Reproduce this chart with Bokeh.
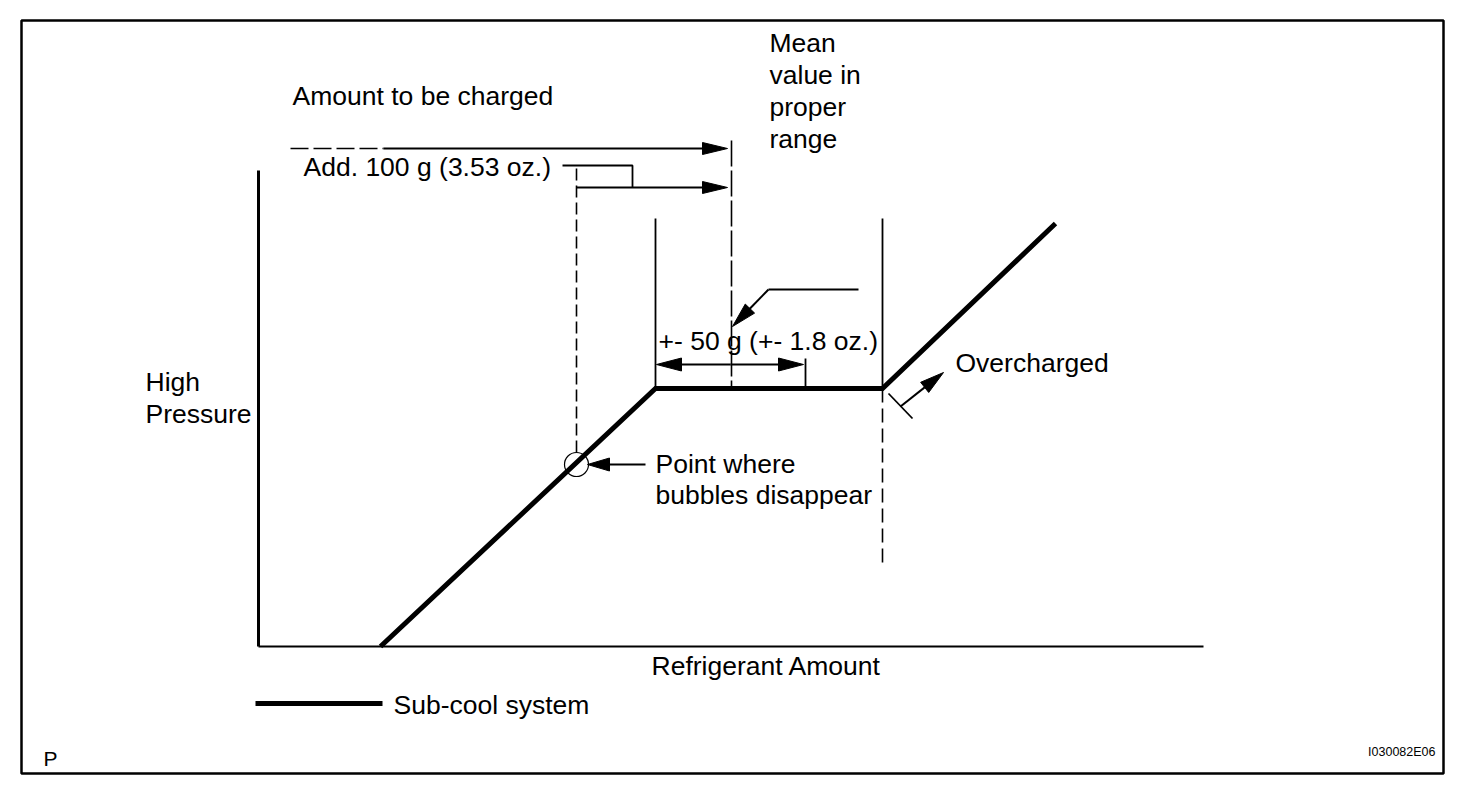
import numpy as np
from bokeh.plotting import figure
from bokeh.models import Range1d
from bokeh.core.properties import value
from bokeh.embed import file_html
from bokeh.resources import INLINE

# ---- diagram data (diagram units; y grows downward as in the source drawing) ----
curve_amount = [380, 655, 882, 1055]
curve_pressure = [646, 388, 388, 223]

axis_x = [258, 258, 1203]
axis_y = [170, 646, 646]

label_text = ["Amount to be charged", "Mean", "value in", "proper", "range",
              "Add. 100 g (3.53 oz.)", "+- 50 g (+- 1.8 oz.)", "Overcharged",
              "High", "Pressure", "Point where", "bubbles disappear",
              "Refrigerant Amount", "Sub-cool system"]
label_x = [292, 769, 769, 769, 769, 303, 658, 955, 145, 145, 655, 655, 651, 393]
label_y = [95, 42, 74, 106, 138, 166, 340, 362, 381, 413, 463, 494, 665, 704]

# arrows: start -> tip
arrow_x0 = [383, 576, 730, 730, 768, 900, 645]
arrow_y0 = [148, 187, 364, 364, 289, 406, 464]
arrow_x1 = [727, 727, 656, 803, 732, 943, 587]
arrow_y1 = [148, 187, 364, 364, 326, 372, 464]
arrow_len = [25, 25, 25, 25, 25, 24, 22]
arrow_wid = [12, 12, 13, 13, 13, 13, 13]

# plain thin polylines
poly_xs = [[562, 632, 632], [858, 768], [888, 912], [805, 805], [655, 655], [882, 882]]
poly_ys = [[165, 165, 187], [289, 289], [393, 418], [358, 388], [218, 388], [218, 388]]

# dashed guide lines
dash_xs = [[290, 383], [576, 576], [731, 731], [882, 882]]
dash_ys = [[148, 148], [168, 452], [140, 388], [388, 563]]
dash_pat = ["18 5", "12 5", "26 4", "14 6"]

bubble_x, bubble_y, bubble_r = [576], [464], [12]
legend_x, legend_y = [255, 382], [703, 703]
frame = dict(left=21, right=1443, top=20, bottom=773)

W, H = 1456, 778
p = figure(width=W, height=H, x_range=Range1d(0, W), y_range=Range1d(H, 0),
           output_backend="svg", toolbar_location=None,
           x_axis_type=None, y_axis_type=None, min_border=0)
p.grid.visible = False
p.outline_line_color = None
p.background_fill_color = "white"
p.border_fill_color = "white"

# frame
p.quad(left=[frame["left"]], right=[frame["right"]], top=[frame["top"]],
       bottom=[frame["bottom"]], fill_color=None, line_color="black", line_width=2.5)

# axes
p.line(axis_x[:2], axis_y[:2], line_color="black", line_width=3)
p.line(axis_x[1:], axis_y[1:], line_color="black", line_width=2)

# curve
p.line(curve_amount, curve_pressure, line_color="black", line_width=5, line_join="miter")
p.line(legend_x, legend_y, line_color="black", line_width=5)

# thin lines
p.multi_line(poly_xs, poly_ys, line_color="black", line_width=1.8)
for xs, ys, pat in zip(dash_xs, dash_ys, dash_pat):
    p.line(xs, ys, line_color="black", line_width=1.6, line_dash=pat)

# arrows
hx, hy, sx, sy = [], [], [], []
for x0, y0, x1, y1, L, Wd in zip(arrow_x0, arrow_y0, arrow_x1, arrow_y1, arrow_len, arrow_wid):
    d = np.array([x1 - x0, y1 - y0], dtype=float)
    u = d / np.hypot(*d)
    n = np.array([-u[1], u[0]])
    tip = np.array([x1, y1], dtype=float)
    base = tip - L * u
    a = base + Wd / 2 * n
    b = base - Wd / 2 * n
    hx.append([tip[0], a[0], b[0]])
    hy.append([tip[1], a[1], b[1]])
    sx.append([x0, base[0] + u[0] * 2])
    sy.append([y0, base[1] + u[1] * 2])
p.multi_line(sx, sy, line_color="black", line_width=2)
p.patches(hx, hy, fill_color="black", line_color="black", line_width=1)

# bubble circle
p.circle(bubble_x, bubble_y, radius=bubble_r, fill_color=None, line_color="black", line_width=1.2)

# labels
p.text(label_x, label_y, text=label_text, text_font=value("Liberation Sans"),
       text_font_size="26.5px", text_baseline="alphabetic", text_align="left", text_color="black")
p.text([43], [758], text=["P"], text_font=value("Liberation Sans"),
       text_font_size="21px", text_baseline="alphabetic", text_color="black")
p.text([1435], [751], text=["I030082E06"], text_font=value("Liberation Sans"),
       text_font_size="12.5px", text_baseline="alphabetic", text_align="right", text_color="black")

open("out.html", "w").write(file_html(p, INLINE))
